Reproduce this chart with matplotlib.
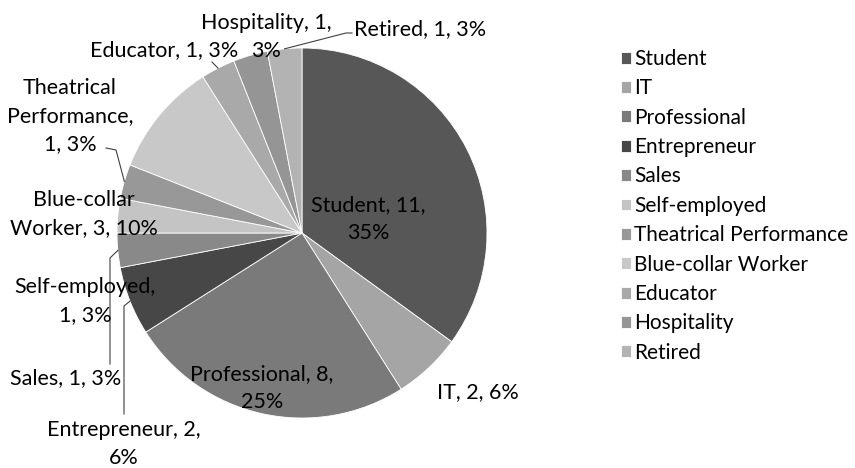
import textwrap
import matplotlib
matplotlib.use("Agg")
import matplotlib.pyplot as plt
import numpy as np

# data
categories = ["Student", "IT", "Professional", "Entrepreneur", "Sales", "Self-employed",
              "Theatrical Performance", "Blue-collar Worker", "Educator", "Hospitality", "Retired"]
counts = [11, 2, 8, 2, 1, 1, 1, 3, 1, 1, 1]
percents = [35, 6, 25, 6, 3, 3, 3, 10, 3, 3, 3]
colors = ["#575757", "#a5a5a5", "#7a7a7a", "#474747", "#898989", "#c4c4c4",
          "#989898", "#c8c8c8", "#a9a9a9", "#959595", "#b3b3b3"]

plt.rcParams['font.family'] = ['Lato', 'DejaVu Sans']
FS = 15.5
LEG_FS = 15
LINE_GAP = 28  # px between lines of a wrapped label

W, H = 855, 468
CX, CY, R = 302, 233, 185

fig = plt.figure(figsize=(W / 100, H / 100), dpi=100)
ax = fig.add_axes([(CX - R) / W, (H - CY - R) / H, 2 * R / W, 2 * R / H])

wedges, _ = ax.pie(percents, colors=colors, startangle=90, counterclock=False, radius=1,
                   wedgeprops=dict(edgecolor='white', linewidth=0.6))
# pie() widens the limits to 1.25, put them back so the circle fills the axes
ax.set_xlim(-1, 1)
ax.set_ylim(-1, 1)
ax.set_aspect('equal')
ax.axis('off')


def px(x, y):
    # pixel position in the figure -> pie data units
    return (x - CX) / R, (CY - y) / R


def edge_point(i):
    w = wedges[i]
    a = np.deg2rad((w.theta1 + w.theta2) / 2)
    return np.cos(a), np.sin(a)


# label layout: (x, y centre in pixels, wrap width)
layout = {
    "Student": (368, 219, 12),
    "IT": (478, 392, 20),
    "Professional": (262, 388, 16),
    "Entrepreneur": (124, 444, 16),
    "Sales": (66, 378, 20),
    "Self-employed": (85, 301, 14),
    "Theatrical Performance": (70, 116, 12),
    "Blue-collar Worker": (84, 214, 15),
    "Educator": (164, 50, 20),
    "Hospitality": (266, 37, 15),
    "Retired": (420, 29, 20),
}

for cat, n, p in zip(categories, counts, percents):
    x, y, wrap = layout[cat]
    lines = textwrap.wrap(f"{cat}, {n}, {p}%", wrap, break_on_hyphens=False)
    y0 = y - (len(lines) - 1) * LINE_GAP / 2
    for k, line in enumerate(lines):
        ax.text(*px(x, y0 + k * LINE_GAP), line, ha='center', va='center',
                fontsize=FS, color='black')

# leader lines
leaders = {
    "Entrepreneur": [(124, 414), (124, 306)],
    "Sales": [(110, 364), (110, 258)],
    "Theatrical Performance": [(106, 148), (116, 150)],
    "Educator": [(212, 62)],
    "Retired": [(352, 33), (346, 33)],
}
for cat, pts in leaders.items():
    i = categories.index(cat)
    xs = [px(a, b)[0] for a, b in pts]
    ys = [px(a, b)[1] for a, b in pts]
    ex, ey = edge_point(i)
    xs.append(ex)
    ys.append(ey)
    ax.plot(xs, ys, color='#404040', lw=0.8, clip_on=False)

fig.legend(wedges, categories, loc='upper left', bbox_to_anchor=(621 / W, 1 - 49 / H),
           frameon=False, fontsize=LEG_FS, handlelength=0.5, handleheight=0.5,
           handletextpad=0.12, labelspacing=0.45, borderpad=0, borderaxespad=0)

fig.savefig("out.png", dpi=100)
